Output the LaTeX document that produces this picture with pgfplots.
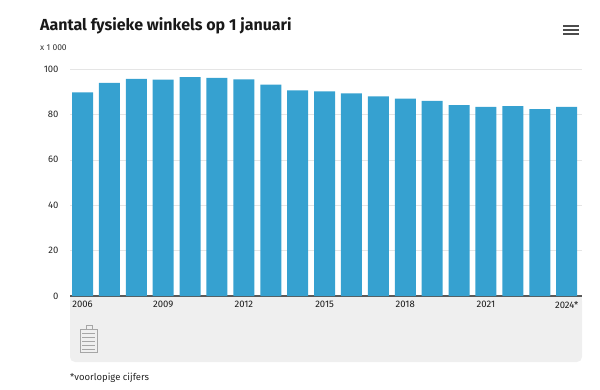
\documentclass[border=0pt]{standalone}
\usepackage{pgfplots}
\pgfplotsset{compat=1.18}
\usepackage{fontspec}
\setmainfont{Fira Sans}
\definecolor{barblue}{HTML}{36A1D0}
\definecolor{panel}{HTML}{EFEFEF}
\begin{document}
\begin{tikzpicture}[x=1pt,y=-1pt]
\path (0,0) rectangle (600,389);
% grey panel below the axis
\fill[panel, rounded corners=5pt] (70,296) rectangle (582,362);
\fill[panel] (70,296) rectangle (582,320);
% title etc.
\node[anchor=base west, inner sep=0pt, font=\bfseries\fontsize{16}{19}\selectfont, text=black!90] at (40,30.7) {Aantal fysieke winkels op 1 januari};
\node[anchor=base west, inner sep=0pt, font=\fontsize{8.5}{10}\selectfont, text=black!80] at (40,50.7) {x 1 000};
\node[anchor=base west, inner sep=0pt, font=\fontsize{9.5}{11}\selectfont, text=black!85] at (70,380) {*voorlopige cijfers};
% menu icon
\foreach \yy in {25.5,29.7,34} {\draw[black!70, line width=2pt] (563,\yy) -- (579,\yy);}
% small logo icon
\begin{scope}[black!35, line width=0.6pt]
\draw (80,329) rectangle (97,352);
\draw (86,325) rectangle (92,329);
\draw (82,333) -- (95,333);
\draw (82,337) -- (95,337);
\draw (82,341) -- (95,341);
\draw (82,345) -- (95,345);
\draw (82,349) -- (95,349);
\end{scope}
\begin{axis}[
  at={(70pt,-296pt)}, anchor=south west,
  scale only axis, width=512pt, height=227pt,
  ymin=0, ymax=100, xmin=-0.465, xmax=18.57,
  ybar, bar width=21pt,
  ytick={0,20,...,100},
  xtick={0,3,...,18},
  xticklabels={2006,2009,2012,2015,2018,2021,2024*},
  ymajorgrids, grid style={black!10, line width=0.6pt},
  axis x line=bottom, axis y line=left,
  x axis line style={-, draw=black!65, line width=1.2pt},
  y axis line style={draw=none},
  major tick length=0pt,
  tick label style={font=\fontsize{9.5}{11}\selectfont, text=black!85},
  xticklabel style={font=\fontsize{9.5}{11}\selectfont, text=black!90, yshift=-2pt},
  yticklabel style={xshift=-8pt},
  /pgf/number format/assume math mode=true,
]
\addplot[fill=barblue, draw=none] coordinates {
(0,89.7) (1,93.9) (2,95.7) (3,95.3) (4,96.4) (5,96.1) (6,95.4) (7,93.1) (8,90.6) (9,90.1)
(10,89.3) (11,87.9) (12,87.0) (13,86.0) (14,84.1) (15,83.3) (16,83.7) (17,82.3) (18,83.3)};
\end{axis}
\end{tikzpicture}
\end{document}
